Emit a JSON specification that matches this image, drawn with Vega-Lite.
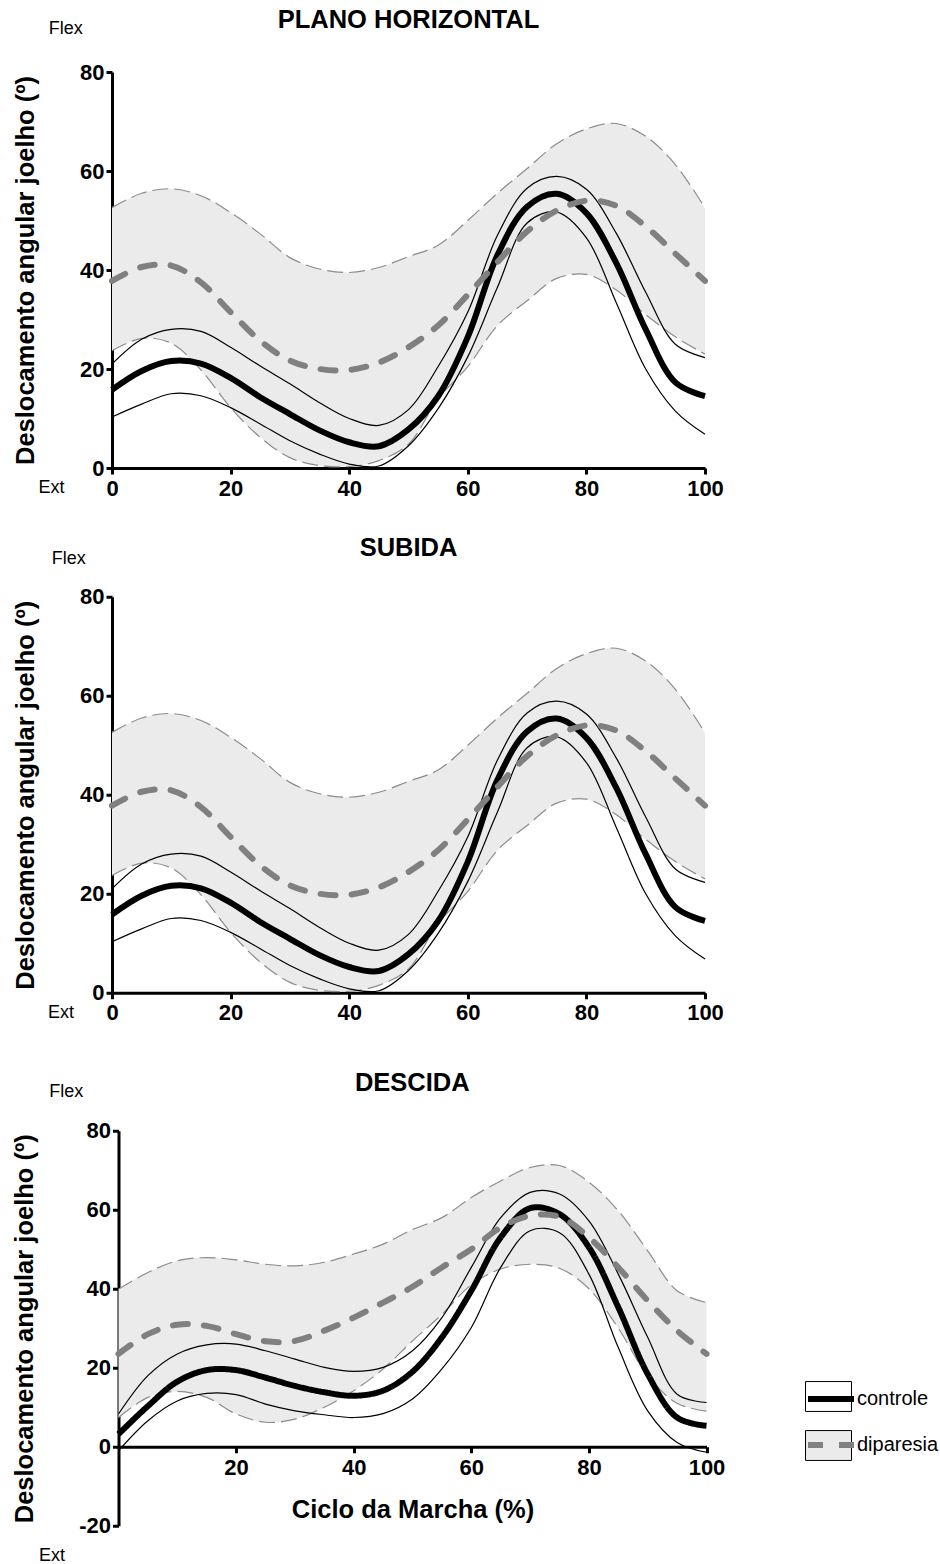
{
  "$schema": "https://vega.github.io/schema/vega-lite/v6.json",
  "background": "white",
  "padding": {"left": 12, "top": 8, "right": 0, "bottom": 0},
  "spacing": 46.75,
  "datasets": {
    "ph": [
      {"x": 0, "cm": 15.8, "cu": 21.0, "cl": 10.3, "dm": 37.8, "du": 52.6, "dl": 23.7},
      {"x": 5, "cm": 19.6, "cu": 26.0, "cl": 12.9, "dm": 40.6, "du": 55.5, "dl": 26.2},
      {"x": 10, "cm": 21.6, "cu": 28.0, "cl": 15.0, "dm": 40.9, "du": 56.4, "dl": 25.2},
      {"x": 15, "cm": 21.1, "cu": 27.6, "cl": 14.6, "dm": 37.5, "du": 55.0, "dl": 19.8},
      {"x": 20, "cm": 18.2, "cu": 24.4, "cl": 12.2, "dm": 31.5, "du": 51.6, "dl": 12.2},
      {"x": 25, "cm": 14.3, "cu": 20.6, "cl": 8.9, "dm": 25.7, "du": 47.3, "dl": 6.2},
      {"x": 30, "cm": 10.9, "cu": 17.0, "cl": 5.5, "dm": 21.7, "du": 42.5, "dl": 2.1},
      {"x": 35, "cm": 7.6, "cu": 13.2, "cl": 2.8, "dm": 20.0, "du": 40.2, "dl": 0.5},
      {"x": 40, "cm": 5.2, "cu": 10.0, "cl": 0.8, "dm": 19.8, "du": 39.5, "dl": 0.3},
      {"x": 45, "cm": 4.4, "cu": 8.6, "cl": 0.4, "dm": 21.3, "du": 40.5, "dl": 1.5},
      {"x": 50, "cm": 7.8, "cu": 11.8, "cl": 4.5, "dm": 24.4, "du": 42.7, "dl": 4.8},
      {"x": 55, "cm": 14.5, "cu": 20.5, "cl": 12.0, "dm": 28.8, "du": 45.0, "dl": 14.0},
      {"x": 60, "cm": 26.5, "cu": 31.5, "cl": 22.5, "dm": 35.0, "du": 50.0, "dl": 20.5},
      {"x": 65, "cm": 43.0, "cu": 47.0, "cl": 36.5, "dm": 41.6, "du": 55.5, "dl": 28.8},
      {"x": 70, "cm": 52.8, "cu": 56.5, "cl": 49.5, "dm": 47.8, "du": 60.5, "dl": 33.8},
      {"x": 75, "cm": 55.4, "cu": 58.9, "cl": 51.7, "dm": 52.0, "du": 65.5, "dl": 38.3},
      {"x": 80, "cm": 51.5, "cu": 56.3, "cl": 46.5, "dm": 54.0, "du": 68.5, "dl": 39.1},
      {"x": 85, "cm": 41.5, "cu": 47.5, "cl": 33.5, "dm": 53.0, "du": 69.6, "dl": 36.0},
      {"x": 90, "cm": 28.0, "cu": 35.5, "cl": 20.0, "dm": 48.8, "du": 67.0, "dl": 31.0},
      {"x": 95, "cm": 17.3, "cu": 25.0, "cl": 11.5, "dm": 43.3, "du": 61.3, "dl": 26.5},
      {"x": 100, "cm": 14.5, "cu": 22.3, "cl": 6.8, "dm": 37.8, "du": 52.5, "dl": 23.0}
    ],
    "de": [
      {"x": 0, "cm": 3.2, "cu": 8.3, "cl": -1.0, "dm": 23.5, "du": 39.9, "dl": 7.4},
      {"x": 5, "cm": 10.3, "cu": 18.0, "cl": 6.6, "dm": 28.5, "du": 44.1, "dl": 12.5},
      {"x": 10, "cm": 16.5, "cu": 23.5, "cl": 11.6, "dm": 30.9, "du": 47.1, "dl": 14.0},
      {"x": 15, "cm": 19.4, "cu": 25.8, "cl": 13.5, "dm": 30.6, "du": 47.9, "dl": 12.5},
      {"x": 20, "cm": 19.4, "cu": 26.0, "cl": 13.2, "dm": 28.5, "du": 47.3, "dl": 8.3},
      {"x": 25, "cm": 17.5, "cu": 24.3, "cl": 10.8, "dm": 26.7, "du": 46.2, "dl": 6.2},
      {"x": 30, "cm": 15.4, "cu": 22.2, "cl": 9.1, "dm": 26.8, "du": 45.8, "dl": 7.0},
      {"x": 35, "cm": 13.8, "cu": 20.1, "cl": 8.1, "dm": 29.4, "du": 46.7, "dl": 10.0},
      {"x": 40, "cm": 12.9, "cu": 19.1, "cl": 7.4, "dm": 32.7, "du": 48.8, "dl": 14.2},
      {"x": 45, "cm": 14.2, "cu": 20.1, "cl": 8.4, "dm": 36.5, "du": 51.3, "dl": 19.7},
      {"x": 50, "cm": 19.0, "cu": 24.3, "cl": 12.1, "dm": 40.5, "du": 55.0, "dl": 26.8},
      {"x": 55, "cm": 27.7, "cu": 32.7, "cl": 19.7, "dm": 45.4, "du": 58.0, "dl": 33.5},
      {"x": 60, "cm": 39.5, "cu": 45.4, "cl": 30.2, "dm": 50.0, "du": 63.1, "dl": 41.0},
      {"x": 65, "cm": 53.0, "cu": 58.0, "cl": 45.4, "dm": 55.5, "du": 67.3, "dl": 45.0},
      {"x": 70, "cm": 60.4, "cu": 64.4, "cl": 54.7, "dm": 58.5, "du": 70.7, "dl": 46.2},
      {"x": 75, "cm": 58.9, "cu": 64.0, "cl": 54.2, "dm": 58.2, "du": 71.2, "dl": 45.2},
      {"x": 80, "cm": 50.5, "cu": 57.2, "cl": 43.7, "dm": 53.0, "du": 67.0, "dl": 40.0},
      {"x": 85, "cm": 35.3, "cu": 43.7, "cl": 25.1, "dm": 45.4, "du": 59.7, "dl": 30.0},
      {"x": 90, "cm": 18.4, "cu": 27.7, "cl": 9.1, "dm": 37.0, "du": 49.6, "dl": 18.0},
      {"x": 95, "cm": 7.4, "cu": 13.3, "cl": 1.1, "dm": 29.4, "du": 39.5, "dl": 11.0},
      {"x": 100, "cm": 5.3, "cu": 11.2, "cl": -1.4, "dm": 23.5, "du": 36.5, "dl": 9.0}
    ]
  },
  "vconcat": [
    {
      "spacing": 36.75,
      "vconcat": [
        {
          "width": 593, "height": 396,
          "title": {"text": "PLANO HORIZONTAL", "offset": -14},
          "data": {"name": "ph"},
          "encoding": {"x": {"field": "x", "type": "quantitative", "scale": {"domain": [0, 100], "nice": false}, "axis": {"values": [0, 20, 40, 60, 80, 100], "title": null, "labelPadding": 4}}},
          "layer": [
            {"mark": {"type": "area", "interpolate": "catmull-rom", "color": "#ebebeb"},
             "encoding": {"y": {"field": "du", "type": "quantitative", "scale": {"domain": [0, 80], "nice": false}, "axis": {"values": [0, 20, 40, 60, 80]}, "title": "Deslocamento angular joelho (º)"}, "y2": {"field": "dl"}}},
            {"mark": {"type": "line", "interpolate": "catmull-rom", "color": "#8c8c8c", "strokeWidth": 1.2, "strokeDash": [16, 6]}, "encoding": {"y": {"field": "du", "type": "quantitative", "title": "Deslocamento angular joelho (º)"}}},
            {"mark": {"type": "line", "interpolate": "catmull-rom", "color": "#8c8c8c", "strokeWidth": 1.2, "strokeDash": [16, 6]}, "encoding": {"y": {"field": "dl", "type": "quantitative", "title": "Deslocamento angular joelho (º)"}}},
            {"mark": {"type": "line", "interpolate": "catmull-rom", "color": "black", "strokeWidth": 1.2}, "encoding": {"y": {"field": "cu", "type": "quantitative", "title": "Deslocamento angular joelho (º)"}}},
            {"mark": {"type": "line", "interpolate": "catmull-rom", "color": "black", "strokeWidth": 1.2}, "encoding": {"y": {"field": "cl", "type": "quantitative", "title": "Deslocamento angular joelho (º)"}}},
            {"mark": {"type": "line", "interpolate": "catmull-rom", "color": "black", "strokeWidth": 6}, "encoding": {"y": {"field": "cm", "type": "quantitative", "title": "Deslocamento angular joelho (º)"}}},
            {"mark": {"type": "line", "interpolate": "catmull-rom", "color": "#808080", "strokeWidth": 6, "strokeDash": [15, 16], "strokeCap": "round"}, "encoding": {"y": {"field": "dm", "type": "quantitative", "title": "Deslocamento angular joelho (º)"}}},
            {"data": {"values": [{"tx": -7.8, "ty": 88.7, "t": "Flex"}, {"tx": -10.2, "ty": -4.0, "t": "Ext"}]},
             "mark": {"type": "text", "font": "Liberation Sans", "fontSize": 18, "color": "black"},
             "encoding": {"x": {"field": "tx", "type": "quantitative"}, "y": {"field": "ty", "type": "quantitative", "title": "Deslocamento angular joelho (º)"}, "text": {"field": "t"}}}
          ]
        },
        {
          "width": 593, "height": 396,
          "title": {"text": "SUBIDA", "offset": -12},
          "data": {"name": "ph"},
          "encoding": {"x": {"field": "x", "type": "quantitative", "scale": {"domain": [0, 100], "nice": false}, "axis": {"values": [0, 20, 40, 60, 80, 100], "title": null, "labelPadding": 4}}},
          "layer": [
            {"mark": {"type": "area", "interpolate": "catmull-rom", "color": "#ebebeb"},
             "encoding": {"y": {"field": "du", "type": "quantitative", "scale": {"domain": [0, 80], "nice": false}, "axis": {"values": [0, 20, 40, 60, 80]}, "title": "Deslocamento angular joelho (º)"}, "y2": {"field": "dl"}}},
            {"mark": {"type": "line", "interpolate": "catmull-rom", "color": "#8c8c8c", "strokeWidth": 1.2, "strokeDash": [16, 6]}, "encoding": {"y": {"field": "du", "type": "quantitative", "title": "Deslocamento angular joelho (º)"}}},
            {"mark": {"type": "line", "interpolate": "catmull-rom", "color": "#8c8c8c", "strokeWidth": 1.2, "strokeDash": [16, 6]}, "encoding": {"y": {"field": "dl", "type": "quantitative", "title": "Deslocamento angular joelho (º)"}}},
            {"mark": {"type": "line", "interpolate": "catmull-rom", "color": "black", "strokeWidth": 1.2}, "encoding": {"y": {"field": "cu", "type": "quantitative", "title": "Deslocamento angular joelho (º)"}}},
            {"mark": {"type": "line", "interpolate": "catmull-rom", "color": "black", "strokeWidth": 1.2}, "encoding": {"y": {"field": "cl", "type": "quantitative", "title": "Deslocamento angular joelho (º)"}}},
            {"mark": {"type": "line", "interpolate": "catmull-rom", "color": "black", "strokeWidth": 6}, "encoding": {"y": {"field": "cm", "type": "quantitative", "title": "Deslocamento angular joelho (º)"}}},
            {"mark": {"type": "line", "interpolate": "catmull-rom", "color": "#808080", "strokeWidth": 6, "strokeDash": [15, 16], "strokeCap": "round"}, "encoding": {"y": {"field": "dm", "type": "quantitative", "title": "Deslocamento angular joelho (º)"}}},
            {"data": {"values": [{"tx": -7.3, "ty": 87.7, "t": "Flex"}, {"tx": -8.6, "ty": -4.0, "t": "Ext"}]},
             "mark": {"type": "text", "font": "Liberation Sans", "fontSize": 18, "color": "black"},
             "encoding": {"x": {"field": "tx", "type": "quantitative"}, "y": {"field": "ty", "type": "quantitative", "title": "Deslocamento angular joelho (º)"}, "text": {"field": "t"}}}
          ]
        }
      ]
    },
    {
      "width": 594.5, "height": 395,
      "title": {"text": "DESCIDA", "offset": -14, "dx": 3},
      "data": {"name": "de"},
      "encoding": {"x": {"field": "x", "type": "quantitative", "scale": {"domain": [0, 100], "nice": false, "range": [6.5, 594.5]}, "axis": {"values": [20, 40, 60, 80, 100], "title": "Ciclo da Marcha (%)", "offset": -79, "labelPadding": 5, "titlePadding": 19}}},
      "layer": [
        {"mark": {"type": "area", "interpolate": "catmull-rom"},
         "encoding": {"y": {"field": "du", "type": "quantitative", "scale": {"domain": [-20, 80], "nice": false}, "axis": {"values": [-20, 0, 20, 40, 60, 80], "offset": -6.5, "labelExpr": "replace(datum.label, '−', '-')"}, "title": "Deslocamento angular joelho (º)"}, "y2": {"field": "dl"},
           "fill": {"datum": "diparesia_box", "type": "nominal", "scale": {"domain": ["controle_box", "diparesia_box"], "range": ["#ffffff", "#ebebeb"]},
             "legend": {"title": null, "orient": "none", "legendX": 693, "legendY": 1301, "symbolType": "M-1,-0.65L1,-0.65L1,0.65L-1,0.65Z", "symbolSize": 2116, "symbolStrokeColor": "black", "symbolStrokeWidth": 1, "symbolOpacity": 1, "labelExpr": "''", "labelFontSize": 20, "labelOffset": 0, "rowPadding": 8, "padding": 0}}}},
        {"mark": {"type": "line", "interpolate": "catmull-rom", "color": "#8c8c8c", "strokeWidth": 1.2, "strokeDash": [16, 6]}, "encoding": {"y": {"field": "du", "type": "quantitative", "title": "Deslocamento angular joelho (º)"}}},
        {"mark": {"type": "line", "interpolate": "catmull-rom", "color": "#8c8c8c", "strokeWidth": 1.2, "strokeDash": [16, 6]}, "encoding": {"y": {"field": "dl", "type": "quantitative", "title": "Deslocamento angular joelho (º)"}}},
        {"mark": {"type": "line", "interpolate": "catmull-rom", "color": "black", "strokeWidth": 1.2}, "encoding": {"y": {"field": "cu", "type": "quantitative", "title": "Deslocamento angular joelho (º)"}}},
        {"mark": {"type": "line", "interpolate": "catmull-rom", "color": "black", "strokeWidth": 1.2}, "encoding": {"y": {"field": "cl", "type": "quantitative", "title": "Deslocamento angular joelho (º)"}}},
        {"mark": {"type": "line", "interpolate": "catmull-rom", "strokeWidth": 6},
         "encoding": {"y": {"field": "cm", "type": "quantitative", "title": "Deslocamento angular joelho (º)"},
           "stroke": {"datum": "controle", "type": "nominal", "scale": {"domain": ["controle", "diparesia"], "range": ["#000000", "#808080"]},
             "legend": {"title": null, "orient": "none", "legendX": 693, "legendY": 1301, "symbolType": "stroke", "symbolSize": 2116, "symbolStrokeWidth": 6, "labelFontSize": 20, "labelOffset": 0, "rowPadding": 8, "padding": 0}},
           "strokeDash": {"datum": "controle", "type": "nominal", "scale": {"domain": ["controle", "diparesia"], "range": [[1, 0], [15, 16]]},
             "legend": {"title": null, "orient": "none", "legendX": 693, "legendY": 1301, "symbolType": "stroke", "symbolSize": 2116, "symbolStrokeWidth": 6, "labelFontSize": 20, "labelOffset": 0, "rowPadding": 8, "padding": 0}}}},
        {"mark": {"type": "line", "interpolate": "catmull-rom", "strokeWidth": 6, "strokeCap": "round"},
         "encoding": {"y": {"field": "dm", "type": "quantitative", "title": "Deslocamento angular joelho (º)"},
           "stroke": {"datum": "diparesia", "type": "nominal"},
           "strokeDash": {"datum": "diparesia", "type": "nominal"}}},
        {"data": {"values": [{"tx": -8.9, "ty": 89.9, "t": "Flex"}, {"tx": -11.3, "ty": -27.6, "t": "Ext"}]},
         "mark": {"type": "text", "font": "Liberation Sans", "fontSize": 18, "color": "black"},
         "encoding": {"x": {"field": "tx", "type": "quantitative"}, "y": {"field": "ty", "type": "quantitative", "title": "Deslocamento angular joelho (º)"}, "text": {"field": "t"}}}
      ]
    }
  ],
  "config": {
    "font": "Liberation Sans",
    "view": {"stroke": null},
    "title": {"font": "Liberation Sans", "fontSize": 25.5, "fontWeight": "bold", "color": "black", "anchor": "middle", "frame": "group"},
    "axis": {
      "grid": false, "domainColor": "black", "domainWidth": 3, "tickColor": "black", "tickWidth": 3, "tickSize": 6,
      "labelFont": "Liberation Sans", "labelFontWeight": "bold", "labelFontSize": 22, "labelColor": "black", "labelPadding": 2, "labelFlush": false,
      "titleFont": "Liberation Sans", "titleFontWeight": "bold", "titleFontSize": 25.5, "titleColor": "black"
    },
    "axisY": {"titlePadding": 41},
    "legend": {"labelFont": "Liberation Sans", "labelColor": "black"}
  }
}
